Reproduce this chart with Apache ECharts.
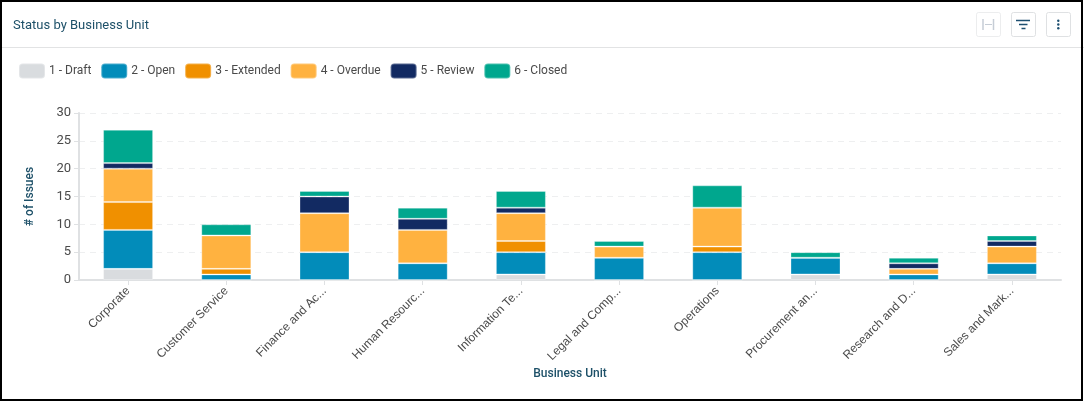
<!DOCTYPE html>
<html>
<head>
<meta charset="utf-8">
<script src="https://cdn.jsdelivr.net/npm/echarts@6/dist/echarts.min.js"></script>
<style>
html,body{margin:0;padding:0;background:#fff;overflow:hidden}
#c{width:1084px;height:402px}
</style>
</head>
<body>
<div id="c"></div>
<script>
const categories = ["Corporate","Customer Service","Finance and Ac...","Human Resourc...","Information Te...","Legal and Comp...","Operations","Procurement an...","Research and D...","Sales and Mark..."];
const draft    = [2,0,0,0,1,0,0,1,0,1];
const open     = [7,1,5,3,4,4,5,3,1,2];
const extended = [5,1,0,0,2,0,1,0,0,0];
const overdue  = [6,6,7,6,5,2,7,0,1,3];
const review   = [1,0,3,2,1,0,0,0,1,1];
const closed   = [6,2,1,2,3,1,4,1,1,1];
const seriesNames = ["1 - Draft","2 - Open","3 - Extended","4 - Overdue","5 - Review","6 - Closed"];
const seriesColors = ["#d9dcdf","#028cba","#f09000","#ffb240","#122a62","#00a78e"];
const seriesValues = [draft,open,extended,overdue,review,closed];
const yTicks = {min:0,max:30,interval:5};

const chart = echarts.init(document.getElementById('c'),null,{renderer:'canvas'});
const btn = (x,op)=>({type:'rect',shape:{x:x,y:12.5,width:24,height:24,r:2},style:{fill:'#fff',stroke:'#dfe1e3',lineWidth:1,opacity:op}});
const ln = (x1,y1,x2,y2,c,w)=>({type:'line',shape:{x1,y1,x2,y2},style:{stroke:c,lineWidth:w||1}});
chart.setOption({
  animation:false,
  textStyle:{fontFamily:'Roboto'},
  title:{text:'Status by Business Unit',left:13,top:18,padding:0,textStyle:{fontFamily:'Roboto',fontSize:13,fontWeight:'normal',color:'#1d5068',lineHeight:16}},
  legend:{left:18,top:62.5,padding:0,itemWidth:26,itemHeight:15,itemGap:8.9,icon:'roundRect',
    textStyle:{fontFamily:'Roboto',fontSize:12,color:'#4a4a4a',padding:[0,0,0,-1]},
    data:seriesNames},
  grid:{left:79,right:23,top:113,bottom:122,containLabel:false},
  xAxis:{type:'category',data:categories,
    name:'Business Unit',nameLocation:'middle',nameGap:88,
    nameTextStyle:{fontFamily:'Roboto',fontSize:12,fontWeight:500,color:'#1d5068'},
    axisLine:{lineStyle:{color:'#dfe1e3',width:2}},
    axisTick:{show:true,alignWithLabel:true,length:5,lineStyle:{color:'#dfe1e3'}},
    axisLabel:{rotate:45,interval:0,margin:9,fontFamily:'Liberation Sans',fontSize:12,color:'#4a4a4a'}},
  yAxis:{type:'value',min:yTicks.min,max:yTicks.max,interval:yTicks.interval,
    name:'# of Issues',nameLocation:'middle',nameGap:43,nameRotate:90,
    nameTextStyle:{fontFamily:'Roboto',fontSize:12,fontWeight:500,color:'#1d5068'},
    axisLine:{show:true,lineStyle:{color:'#dfe1e3',width:2}},
    axisTick:{show:true,length:5,lineStyle:{color:'#dfe1e3'}},
    axisLabel:{margin:8,fontFamily:'Roboto',fontSize:13,color:'#4a4a4a'},
    splitLine:{show:true,lineStyle:{color:'#eeeff0',type:[6,5],width:1}}},
  series:seriesNames.map((n,i)=>({
    name:n,type:'bar',stack:'s',barWidth:50,data:seriesValues[i],
    itemStyle:{color:seriesColors[i],borderColor:'rgba(255,255,255,0.3)',borderWidth:1}
  })),
  graphic:[
    ln(0,47.5,1084,47.5,'#e2e3e4',1),
    btn(976.5,0.6),btn(1011.5,1),btn(1046.5,1),
    ln(983,19,983,30,'#c6cdd6',1.5),ln(993.5,19,993.5,30,'#c6cdd6',1.5),ln(985,24.5,992,24.5,'#c6cdd6',1),
    ln(1016,20.5,1030,20.5,'#1d4f70',1.5),ln(1019,24.5,1027.5,24.5,'#1d4f70',1.5),ln(1021.5,28.5,1025.5,28.5,'#1d4f70',1.5),
    {type:'circle',shape:{cx:1058.3,cy:20.7,r:1.2},style:{fill:'#1d4f70'}},
    {type:'circle',shape:{cx:1058.3,cy:24.5,r:1.2},style:{fill:'#1d4f70'}},
    {type:'circle',shape:{cx:1058.3,cy:28.3,r:1.2},style:{fill:'#1d4f70'}},
    {type:'rect',z:100,shape:{x:1,y:1,width:1081,height:399},style:{fill:'none',stroke:'#000',lineWidth:2}}
  ]
});
</script>
</body>
</html>
